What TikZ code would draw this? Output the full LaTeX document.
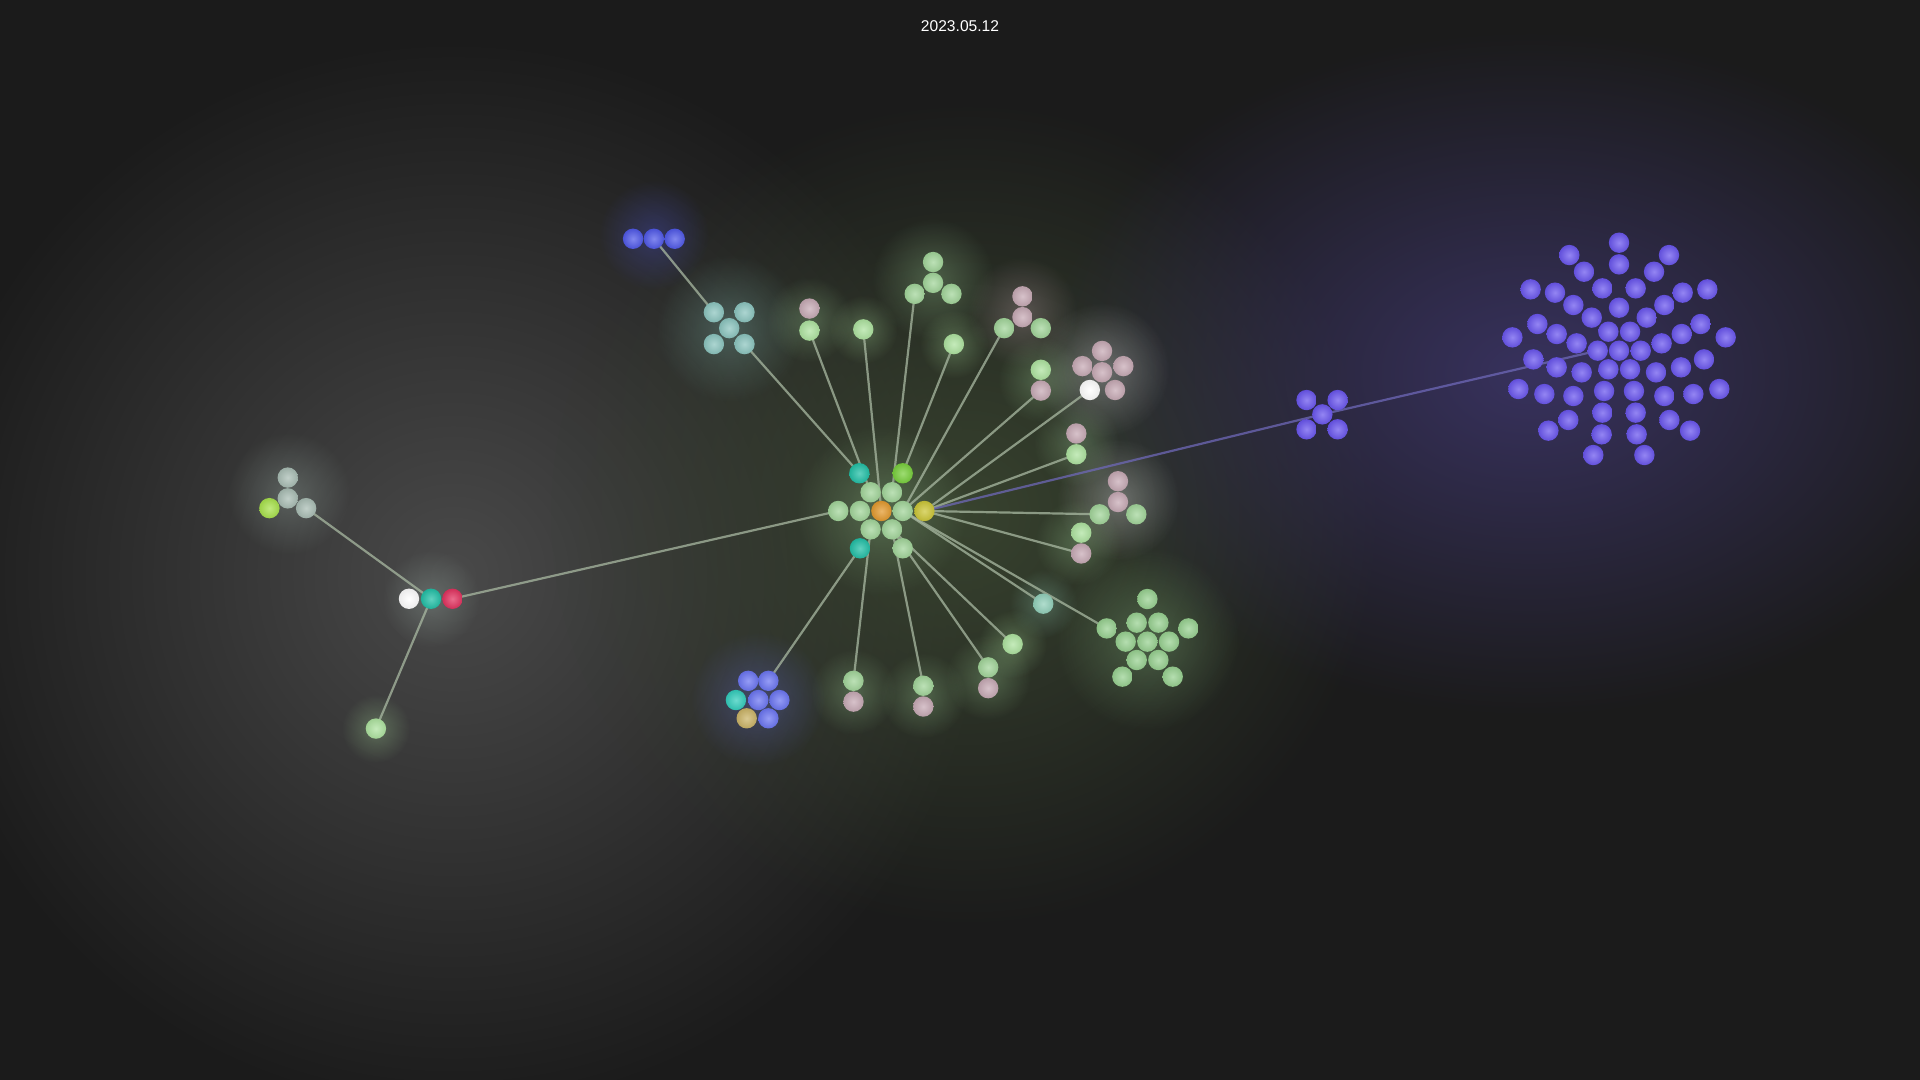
\documentclass[tikz,border=0pt]{standalone}
\usepackage{fontspec}
\newfontfamily\titlefont{Liberation Sans}
\usetikzlibrary{fadings}

\definecolor{bgcol}{HTML}{1B1B1B}
\definecolor{greyglow}{HTML}{4A4A4A}
\definecolor{greenglow}{HTML}{38432F}
\definecolor{purpglow}{HTML}{38325E}
\definecolor{lgreen}{HTML}{A2D59A}
\definecolor{pgreen}{HTML}{AEE3A0}
\definecolor{ggreen}{HTML}{98D191}
\definecolor{mauve}{HTML}{C7AAB5}
\definecolor{tealc}{HTML}{8CC5BF}
\definecolor{teal2}{HTML}{22BFA6}
\definecolor{bgreen}{HTML}{78CF3C}
\definecolor{orangec}{HTML}{E39A2E}
\definecolor{yellowc}{HTML}{CCC637}
\definecolor{blue1}{HTML}{5059E8}
\definecolor{blue2}{HTML}{6C76F2}
\definecolor{cyanc}{HTML}{33CDBC}
\definecolor{tanc}{HTML}{CBB467}
\definecolor{purp}{HTML}{6A56EE}
\definecolor{redc}{HTML}{E2325F}
\definecolor{mint}{HTML}{92D0BA}
\definecolor{limec}{HTML}{A8E24C}
\definecolor{greyc}{HTML}{A9BDB4}
\definecolor{linkc}{HTML}{A9B9A2}
\definecolor{plink}{HTML}{6E68B8}

\tikzfading[name=glowfade, inner color=transparent!0, outer color=transparent!100]

\pgfdeclarelayer{glow}
\pgfdeclarelayer{links}
\pgfsetlayers{glow,links,main}

\tikzset{
  ball/.style={circle, inner sep=0pt, minimum size=10.2pt,
    inner color=#1!72!white, outer color=#1!92!black},
  halo/.style={fill=#1, opacity=.3, path fading=glowfade},
  link/.style={draw=linkc, line width=1.1pt, opacity=.75},
}

\begin{document}
\begin{tikzpicture}[x=0.6122pt, y=-0.6122pt]

        \useasboundingbox (0,0) rectangle (1568,882);

        \node[text=white, font=\titlefont\fontsize{7.8}{9}\selectfont] (title) at (784,21) {2023.05.12};

        \begin{pgfonlayer}{glow}
          \fill[bgcol] (0,0) rectangle (1568,882);
          \fill[greyglow, path fading=glowfade] (370,470) circle (440);
          \fill[greenglow, path fading=glowfade] (790,420) circle (340);
          \fill[purpglow, path fading=glowfade] (1250,305) ellipse (400 and 280);
          \fill[halo=tealc] (596,268) circle (60);
          \fill[halo=blue1] (534,192) circle (45);
          \fill[halo=lgreen] (762,228) circle (50);
          \fill[halo=white] (900,302) circle (55);
          \fill[halo=ggreen] (937,522) circle (75);
          \fill[halo=blue2] (619,571) circle (55);
          \fill[halo=greyc] (236,403) circle (50);
          \fill[halo=lgreen] (720,417) circle (70);
          \fill[halo=mauve] (835,255) circle (45);
          \fill[halo=white] (913,408) circle (50);
          \fill[halo=lgreen] (880,443) circle (35);
          \fill[halo=lgreen] (879,362) circle (35);
          \fill[halo=lgreen] (850,310) circle (35);
          \fill[halo=lgreen] (661,261) circle (35);
          \fill[halo=lgreen] (754,568) circle (35);
          \fill[halo=lgreen] (697,565) circle (35);
          \fill[halo=lgreen] (807,553) circle (35);
          \fill[halo=pgreen] (705,269) circle (28);
          \fill[halo=pgreen] (779,281) circle (28);
          \fill[halo=pgreen] (827,526) circle (28);
          \fill[halo=mint] (852,493) circle (28);
          \fill[halo=pgreen] (307,595) circle (28);
          \fill[halo=greyc] (352,489) circle (40);
        \end{pgfonlayer}

        % centre
        \node[ball=teal2]   (c1)  at (701.8,386.5) {};
        \node[ball=bgreen]  (c2)  at (737.2,386.5) {};
        \node[ball=lgreen]  (c3)  at (711,402) {};
        \node[ball=lgreen]  (c4)  at (728.5,402) {};
        \node[ball=lgreen]  (c5)  at (684.6,417.3) {};
        \node[ball=lgreen]  (c6)  at (702.3,417.3) {};
        \node[ball=orangec] (c0)  at (719.8,417.3) {};
        \node[ball=lgreen]  (c7)  at (737.2,417.3) {};
        \node[ball=yellowc] (c8)  at (754.9,417.3) {};
        \node[ball=lgreen]  (c9)  at (711,432.3) {};
        \node[ball=lgreen]  (c10) at (728.5,432.3) {};
        \node[ball=teal2]   (c11) at (702.3,447.8) {};
        \node[ball=lgreen]  (c12) at (737.2,447.8) {};

        % around the centre
        \node[ball=blue1]  (b1) at (517,195) {};
        \node[ball=blue1]  (b2) at (534,195) {};
        \node[ball=blue1]  (b3) at (551,195) {};

        \node[ball=tealc]  (t1) at (583,255) {};
        \node[ball=tealc]  (t2) at (608,255) {};
        \node[ball=tealc]  (t3) at (595.5,268) {};
        \node[ball=tealc]  (t4) at (583,281) {};
        \node[ball=tealc]  (t5) at (608,281) {};

        \node[ball=mauve]  (a1) at (661,252) {};
        \node[ball=pgreen] (a2) at (661,270) {};

        \node[ball=pgreen] (s1) at (705,269) {};

        \node[ball=lgreen] (g1) at (762,214) {};
        \node[ball=lgreen] (g2) at (762,231) {};
        \node[ball=lgreen] (g3) at (747,240) {};
        \node[ball=lgreen] (g4) at (777,240) {};

        \node[ball=pgreen] (s2) at (779,281) {};

        \node[ball=mauve]  (d1) at (835,242) {};
        \node[ball=mauve]  (d2) at (835,259) {};
        \node[ball=lgreen] (d3) at (820,268) {};
        \node[ball=lgreen] (d4) at (850,268) {};

        \node[ball=pgreen] (e1) at (850,302) {};
        \node[ball=mauve]  (e2) at (850,319) {};

        \node[ball=mauve]  (p1) at (900,286.6) {};
        \node[ball=mauve]  (p2) at (884,299) {};
        \node[ball=mauve]  (p3) at (900,304) {};
        \node[ball=mauve]  (p4) at (917.4,299) {};
        \node[ball=white]  (p5) at (890,318.5) {};
        \node[ball=mauve]  (p6) at (910.6,318.5) {};

        \node[ball=mauve]  (f1) at (879,354) {};
        \node[ball=pgreen] (f2) at (879,371) {};

        \node[ball=mauve]  (h1) at (913,393) {};
        \node[ball=mauve]  (h2) at (913,410) {};
        \node[ball=lgreen] (h3) at (898,420) {};
        \node[ball=lgreen] (h4) at (928,420) {};

        \node[ball=pgreen] (i1) at (883,435) {};
        \node[ball=mauve]  (i2) at (883,452) {};

        \node[ball=mint]   (s3) at (852,493) {};
        \node[ball=pgreen] (s4) at (827,526) {};

        \node[ball=lgreen] (j1) at (807,545) {};
        \node[ball=mauve]  (j2) at (807,562) {};

        \node[ball=lgreen] (k1) at (754,560) {};
        \node[ball=mauve]  (k2) at (754,577) {};

        \node[ball=lgreen] (l1) at (697,556) {};
        \node[ball=mauve]  (l2) at (697,573) {};

        \node[ball=blue2]  (u1) at (611,556) {};
        \node[ball=blue2]  (u2) at (627.5,556) {};
        \node[ball=cyanc]  (u3) at (601,571.7) {};
        \node[ball=blue2]  (u4) at (619.3,571.7) {};
        \node[ball=blue2]  (u5) at (636.5,571.7) {};
        \node[ball=tanc]   (u6) at (609.8,586.6) {};
        \node[ball=blue2]  (u7) at (627.5,586.6) {};

        \node[ball=ggreen] (r1)  at (937,489.2) {};
        \node[ball=ggreen] (r2)  at (903.8,513.2) {};
        \node[ball=ggreen] (r3)  at (928.3,508.5) {};
        \node[ball=ggreen] (r4)  at (946,508.5) {};
        \node[ball=ggreen] (r5)  at (970.5,513.2) {};
        \node[ball=ggreen] (r6)  at (919.3,524) {};
        \node[ball=ggreen] (r7)  at (937,524) {};
        \node[ball=ggreen] (r8)  at (954.7,524) {};
        \node[ball=ggreen] (r9)  at (928.3,539) {};
        \node[ball=ggreen] (r10) at (946,539) {};
        \node[ball=ggreen] (r11) at (916.6,552.6) {};
        \node[ball=ggreen] (r12) at (957.7,552.6) {};

        % left side
        \node[ball=white]  (n1) at (334,489) {};
        \node[ball=teal2]  (n2) at (352,489) {};
        \node[ball=redc]   (n3) at (369.5,489) {};

        \node[ball=greyc]  (m1) at (235,390) {};
        \node[ball=greyc]  (m2) at (235,407) {};
        \node[ball=limec]  (m3) at (220,415) {};
        \node[ball=greyc]  (m4) at (250,415) {};

        \node[ball=pgreen] (s5) at (307,595) {};

        % right side
        \node[ball=purp] (v1) at (1067,326.7) {};
        \node[ball=purp] (v2) at (1092.4,326.7) {};
        \node[ball=purp] (v3) at (1079.9,338.4) {};
        \node[ball=purp] (v4) at (1067,350.6) {};
        \node[ball=purp] (v5) at (1092.4,350.6) {};

        \node[ball=purp] (w1)  at (1322.2,198.2) {};
        \node[ball=purp] (w2)  at (1281.6,208.3) {};
        \node[ball=purp] (w3)  at (1363,208.3) {};
        \node[ball=purp] (w4)  at (1322.2,215.9) {};
        \node[ball=purp] (w5)  at (1293.6,221.9) {};
        \node[ball=purp] (w6)  at (1350.8,221.9) {};
        \node[ball=purp] (w7)  at (1250,236.3) {};
        \node[ball=purp] (w8)  at (1269.9,239) {};
        \node[ball=purp] (w9)  at (1308.6,235.5) {};
        \node[ball=purp] (w10) at (1335.8,235.5) {};
        \node[ball=purp] (w11) at (1374.2,239) {};
        \node[ball=purp] (w12) at (1394.3,236.3) {};
        \node[ball=purp] (w13) at (1284.9,249.1) {};
        \node[ball=purp] (w14) at (1322.2,251.3) {};
        \node[ball=purp] (w15) at (1359.2,249.1) {};
        \node[ball=purp] (w16) at (1299.9,259.4) {};
        \node[ball=purp] (w17) at (1344.8,259.4) {};
        \node[ball=purp] (w18) at (1255.5,264.6) {};
        \node[ball=purp] (w19) at (1271.3,272.8) {};
        \node[ball=purp] (w20) at (1313.5,270.9) {};
        \node[ball=purp] (w21) at (1331.2,270.9) {};
        \node[ball=purp] (w22) at (1373.4,272.8) {};
        \node[ball=purp] (w23) at (1388.9,264.6) {};
        \node[ball=purp] (w24) at (1235.1,275.5) {};
        \node[ball=purp] (w25) at (1409.3,275.5) {};
        \node[ball=purp] (w26) at (1287.6,280.4) {};
        \node[ball=purp] (w27) at (1304.8,286.4) {};
        \node[ball=purp] (w28) at (1322.2,286.4) {};
        \node[ball=purp] (w29) at (1339.9,286.4) {};
        \node[ball=purp] (w30) at (1357,280.4) {};
        \node[ball=purp] (w31) at (1252.2,293.5) {};
        \node[ball=purp] (w32) at (1271.3,300) {};
        \node[ball=purp] (w33) at (1291.7,304.1) {};
        \node[ball=purp] (w34) at (1313.5,301.6) {};
        \node[ball=purp] (w35) at (1331.2,301.6) {};
        \node[ball=purp] (w36) at (1352.4,304.1) {};
        \node[ball=purp] (w37) at (1372.8,300) {};
        \node[ball=purp] (w38) at (1391.6,293.5) {};
        \node[ball=purp] (w39) at (1240,317.7) {};
        \node[ball=purp] (w40) at (1261.2,321.8) {};
        \node[ball=purp] (w41) at (1284.9,323.4) {};
        \node[ball=purp] (w42) at (1310,319.3) {};
        \node[ball=purp] (w43) at (1334.4,319.3) {};
        \node[ball=purp] (w44) at (1359.2,323.4) {};
        \node[ball=purp] (w45) at (1382.9,321.8) {};
        \node[ball=purp] (w46) at (1404.1,317.7) {};
        \node[ball=purp] (w47) at (1280.8,343) {};
        \node[ball=purp] (w48) at (1308.6,337) {};
        \node[ball=purp] (w49) at (1335.8,337) {};
        \node[ball=purp] (w50) at (1363.3,343) {};
        \node[ball=purp] (w51) at (1264.5,351.7) {};
        \node[ball=purp] (w52) at (1308,354.7) {};
        \node[ball=purp] (w53) at (1336.6,354.7) {};
        \node[ball=purp] (w54) at (1380.2,351.7) {};
        \node[ball=purp] (w55) at (1301.2,371.6) {};
        \node[ball=purp] (w56) at (1342.9,371.6) {};

        \begin{pgfonlayer}{links}
          \begin{scope}[every path/.style={link}]
            \path (b2.center)  -- (t1.center);
            \path (t5.center)  -- (c1.center);
            \path (a2.center)  -- (c3.center);
            \path (s1.center)  -- (c0.center);
            \path (g3.center)  -- (c4.center);
            \path (s2.center)  -- (c2.center);
            \path (d3.center)  -- (c7.center);
            \path (e2.center)  -- (c7.center);
            \path (p5.center)  -- (c8.center);
            \path (f2.center)  -- (c8.center);
            \path (h3.center)  -- (c8.center);
            \path (i2.center)  -- (c8.center);
            \path (s3.center)  -- (c7.center);
            \path (r2.center)  -- (c7.center);
            \path (s4.center)  -- (c10.center);
            \path (j1.center)  -- (c10.center);
            \path (k1.center)  -- (c10.center);
            \path (l1.center)  -- (c9.center);
            \path (u2.center)  -- (c11.center);
            \path (c5.center)  -- (n3.center);
            \path (n2.center)  -- (m4.center);
            \path (n2.center)  -- (s5.center);
          \end{scope}
          \begin{scope}[every path/.style={link, draw=plink}]
            \path (c8.center)  -- (v3.center);
            \path (v3.center)  -- (w27.center);
          \end{scope}
        \end{pgfonlayer}

      \end{tikzpicture}
\end{document}
